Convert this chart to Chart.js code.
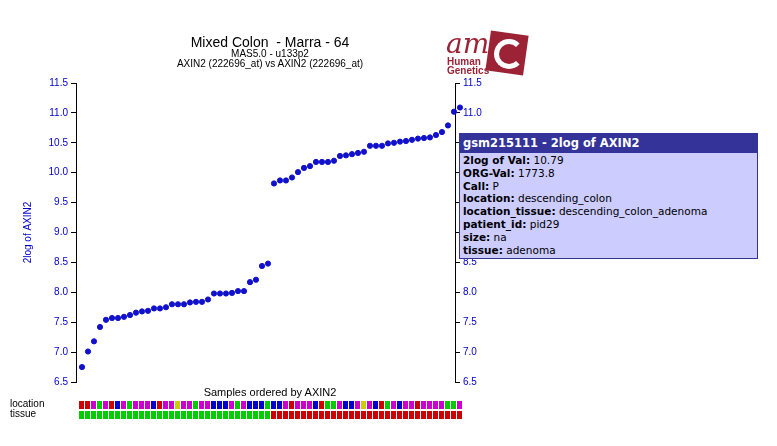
<!DOCTYPE html>
<html><head><meta charset="utf-8">
<script src="https://cdn.jsdelivr.net/npm/chart.js@4"></script>
<style>
body{margin:0;background:#fff;width:777px;height:446px;overflow:hidden;position:relative;font-family:"Liberation Sans",Arial,sans-serif}
#wrap{position:absolute;left:0;top:0;width:500px;height:446px}
.t{position:absolute;text-align:center;color:#000;white-space:nowrap}
#tip{position:absolute;left:459px;top:133px;width:297px;height:124px;border:1px solid #333399;background:#ccccff;font-family:"DejaVu Sans",sans-serif;font-size:10.5px;color:#000;overflow:hidden}
#tip .h{background:#333399;color:#fff;font-weight:bold;font-size:11.5px;padding:2px 3px;height:15px}
#tip .b{padding:1px 3px;line-height:12.8px}
</style></head><body>
<div id="wrap"><canvas id="c" width="500" height="446"></canvas></div>
<div class="t" style="left:120px;width:300px;top:34px;font-size:14px">Mixed Colon &nbsp;- Marra - 64</div>
<div class="t" style="left:120px;width:300px;top:48px;font-size:10px">MAS5.0 - u133p2</div>
<div class="t" style="left:120px;width:300px;top:58px;font-size:10px">AXIN2 (222696_at) vs AXIN2 (222696_at)</div>
<div class="t" style="left:120px;width:300px;top:386px;font-size:11px">Samples ordered by AXIN2</div>
<div class="t" style="left:10px;top:398px;font-size:10px;text-align:left">location</div>
<div class="t" style="left:10px;top:408px;font-size:10px;text-align:left">tissue</div>
<div style="position:absolute;left:488px;top:33px;width:38px;height:40px;background:#9b2335;transform:rotate(8deg)"></div>
<div style="position:absolute;left:494px;top:39px;width:20px;height:20px;border:5px solid #fff;border-right-color:transparent;border-radius:50%"></div>
<div style="position:absolute;left:446px;top:27px;font-size:28px;color:#9b2335;font-family:'DejaVu Serif',serif;font-style:italic">am</div>
<div style="position:absolute;left:447px;top:57px;font-size:10px;line-height:9px;color:#9b2335;font-weight:bold">Human<br>Genetics</div>
<div id="tip"><div class="h">gsm215111 - 2log of AXIN2</div><div class="b">
<b>2log of Val:</b> 10.79<br><b>ORG-Val:</b> 1773.8<br><b>Call:</b> P<br><b>location:</b> descending_colon<br><b>location_tissue:</b> descending_colon_adenoma<br><b>patient_id:</b> pid29<br><b>size:</b> na<br><b>tissue:</b> adenoma</div></div>
<script>
const values=[6.75,7.01,7.18,7.42,7.54,7.57,7.57,7.59,7.62,7.66,7.68,7.69,7.73,7.73,7.75,7.80,7.80,7.80,7.83,7.84,7.84,7.88,7.98,7.98,7.98,7.99,8.02,8.02,8.17,8.21,8.44,8.48,
9.82,9.87,9.87,9.92,10.01,10.08,10.11,10.18,10.18,10.18,10.20,10.28,10.29,10.31,10.33,10.35,10.45,10.45,10.45,10.49,10.50,10.52,10.53,10.55,10.57,10.58,10.59,10.63,10.68,10.79,11.02,11.09];
const R='#cc0000',M='#cc00cc',G='#00cc00',B='#0000cc',Y='#cccc00';
const locationColors=[R,R,M,G,M,R,B,M,G,M,M,M,B,R,M,M,Y,M,M,G,M,M,B,B,B,M,G,M,B,B,B,G,
B,B,M,R,M,M,M,B,R,G,G,M,B,B,M,Y,M,B,R,G,M,B,M,M,R,M,M,M,M,G,G,M];
const tissueColors=values.map((v,i)=>i<32?G:R);
const yTicks=[6.5,7.0,7.5,8.0,8.5,9.0,9.5,10.0,10.5,11.0,11.5];
const pts=values.map((v,i)=>({x:i,y:v}));
const strips={id:'strips',afterDraw(ch){const c=ch.ctx,x=ch.scales.x;
 values.forEach((v,i)=>{const px=Math.round(x.getPixelForValue(i));
  c.fillStyle=locationColors[i];c.fillRect(px-3,401,5,8);
  c.fillStyle=tissueColors[i];c.fillRect(px-3,411,5,8);});}};
const yax=(pos,w)=>({type:'linear',position:pos,min:6.5,max:11.5,
 afterBuildTicks:a=>{a.ticks=yTicks.map(v=>({value:v}))},
 afterFit:a=>{a.width=w},
 border:{color:'#000',width:1},
 grid:{drawOnChartArea:false,drawTicks:true,tickLength:5,tickColor:'#000',display:true},
 ticks:{color:'#0000cc',font:{size:10,family:'Liberation Sans'},callback:v=>v.toFixed(1)},
 title:pos==='left'?{display:true,text:'2log of AXIN2',color:'#0000cc',font:{size:10,family:'Liberation Sans'},padding:{top:0,bottom:0}}:{display:false}});
new Chart(document.getElementById('c'),{type:'scatter',
 data:{datasets:[{data:pts,backgroundColor:'#1111cc',borderColor:'#1111cc',pointRadius:2.6,clip:false}]},
 options:{responsive:false,animation:false,events:[],
  layout:{padding:{top:83,bottom:64,left:22,right:0}},
  plugins:{legend:{display:false},tooltip:{enabled:false}},
  scales:{x:{type:'linear',display:false,min:-1,max:62.17},y:yax('left',54),y2:yax('right',45)}},
 plugins:[strips]});
</script></body></html>
